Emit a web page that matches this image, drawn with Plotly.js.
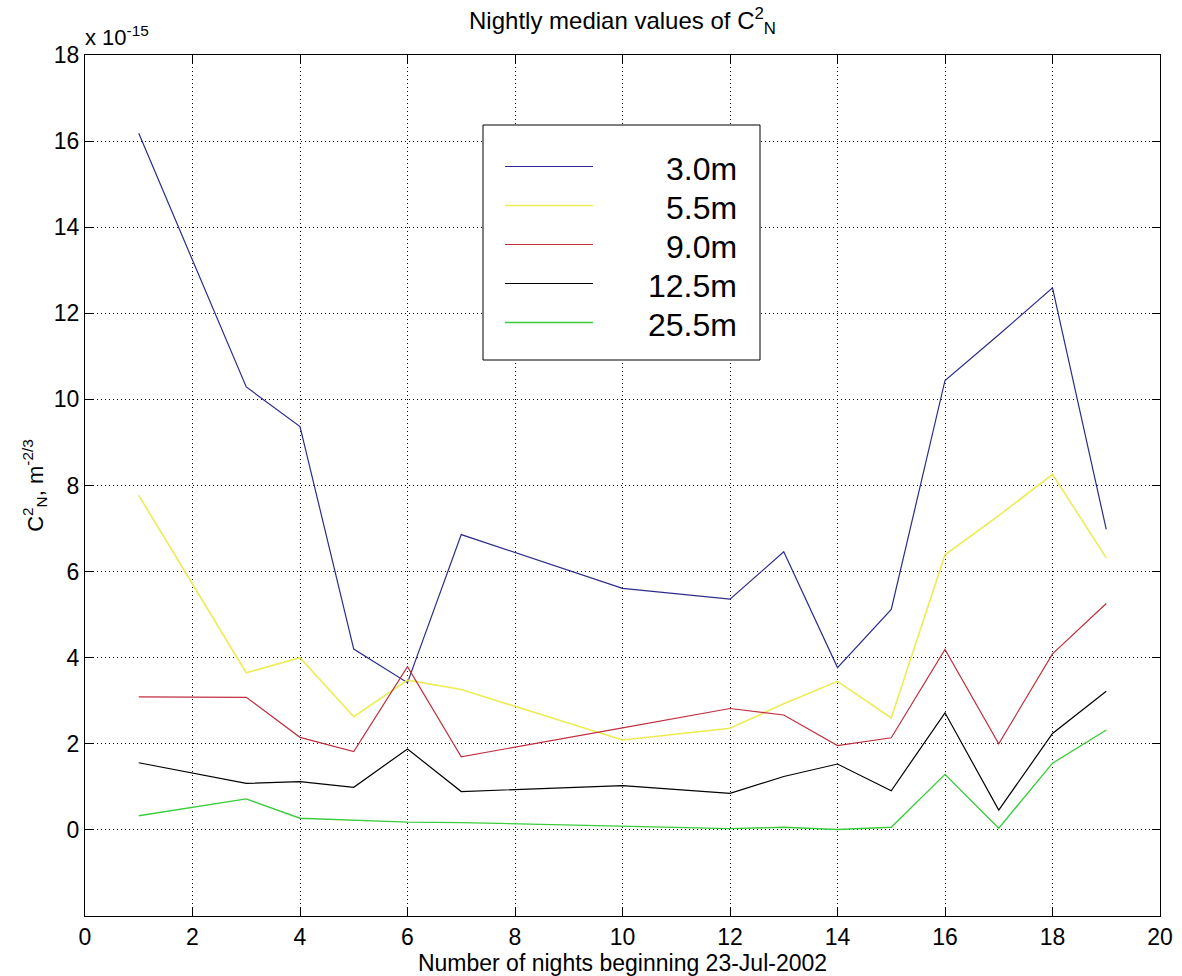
<!DOCTYPE html>
<html><head><meta charset="utf-8">
<script src="https://cdn.plot.ly/plotly-3.0.1.min.js"></script>
<style>html,body{margin:0;padding:0;background:#fff}</style>
</head><body><div id="chart" style="width:1182px;height:976px"></div>
<script>
// Data (values in units of 1e-15 m^-2/3)
const nights = [1,3,4,5,6,7,10,12,13,14,15,16,17,18,19];
const cn2_3_0m  = [16.18,10.29,9.37,4.20,3.42,6.86,5.61,5.36,6.46,3.77,5.12,10.44,11.50,12.59,6.98];
const cn2_5_5m  = [7.77,3.65,4.00,2.63,3.48,3.26,2.09,2.36,2.93,3.45,2.60,6.39,7.30,8.26,6.32];
const cn2_9_0m  = [3.09,3.08,2.15,1.82,3.79,1.70,2.37,2.82,2.67,1.96,2.14,4.19,2.00,4.09,5.26];
const cn2_12_5m = [1.56,1.08,1.12,0.99,1.88,0.89,1.03,0.85,1.24,1.53,0.91,2.72,0.46,2.24,3.22];
const cn2_25_5m = [0.33,0.72,0.27,0.22,0.18,0.17,0.08,0.03,0.06,0.01,0.06,1.29,0.04,1.55,2.32];
const seriesNames = ['3.0m','5.5m','9.0m','12.5m','25.5m'];
const yTickVals = [0,2,4,6,8,10,12,14,16,18];
const xTickVals = [0,2,4,6,8,10,12,14,16,18,20];

const seriesData = [cn2_3_0m, cn2_5_5m, cn2_9_0m, cn2_12_5m, cn2_25_5m];
const colors = ['#2c2c8c','#ecec55','#c03040','#000000','#3ccc3c'];
const widths = [1.2,1.6,1.2,1.2,1.4];
const FONT = 'Arial, "Liberation Sans", sans-serif';

const W = 1182, H = 976;
const M = {l:85, r:22, t:55, b:60};
const px2x = p => (p - M.l) / (W - M.l - M.r);
const px2y = p => (H - M.b - p) / (H - M.t - M.b);

const traces = seriesData.map((ys, i) => ({
  type:'scatter', mode:'lines', x:nights, y:ys, name:seriesNames[i],
  line:{color:colors[i], width:widths[i]}, showlegend:false
}));

// manual legend (MATLAB style)
const shapes = [{type:'rect', xref:'paper', yref:'paper',
  x0:px2x(483), x1:px2x(760), y0:px2y(360), y1:px2y(125),
  line:{color:'#000', width:1}, fillcolor:'#fff', layer:'above'}];
const annotations = [];
seriesNames.forEach((n, i) => {
  const yp = px2y(166.5 + i*39);
  shapes.push({type:'line', xref:'paper', yref:'paper', x0:px2x(505), x1:px2x(593), y0:yp, y1:yp,
    line:{color:colors[i], width:widths[i]}, layer:'above'});
  annotations.push({xref:'paper', yref:'paper', x:px2x(739), y:px2y(169 + i*39), xanchor:'right', yanchor:'middle',
    text:n, showarrow:false, font:{family:FONT, size:32, color:'#000'}});
});
annotations.push({xref:'paper', yref:'paper', x:-0.002, y:px2y(36), xanchor:'left', yanchor:'middle',
  text:'x 10<sup>-15</sup>', showarrow:false, font:{family:FONT, size:22, color:'#000'}});

const layout = {
  width:W, height:H, margin:M, paper_bgcolor:'#fff', plot_bgcolor:'#fff',
  font:{family:FONT, color:'#000'},
  title:{text:'Nightly median values of C<sup>2</sup><sub>N</sub>', font:{family:FONT, size:24, color:'#000'},
    xref:'paper', x:0.5, xanchor:'center', yref:'container', y:1-21/H, yanchor:'middle'},
  xaxis:{range:[0,20], tickvals:xTickVals, ticks:'inside', ticklen:8, tickcolor:'#000',
    showline:true, linecolor:'#000', linewidth:1, mirror:'ticks',
    showgrid:true, gridcolor:'#000', gridwidth:1, griddash:'1px,3px', zeroline:false,
    tickfont:{family:FONT, size:23, color:'#000'},
    title:{text:'Number of nights beginning 23-Jul-2002', font:{family:FONT, size:23, color:'#000'}, standoff:2}},
  yaxis:{range:[-2,18], tickvals:yTickVals, ticks:'inside', ticklen:8, tickcolor:'#000',
    showline:true, linecolor:'#000', linewidth:1, mirror:'ticks',
    showgrid:true, gridcolor:'#000', gridwidth:1, griddash:'1px,3px', zeroline:false,
    tickfont:{family:FONT, size:23, color:'#000'},
    title:{text:'C<sup>2</sup><sub>N</sub>, m<sup>-2/3</sup>', font:{family:FONT, size:22, color:'#000'}, standoff:4}},
  shapes:shapes, annotations:annotations
};
Plotly.newPlot('chart', traces, layout, {displayModeBar:false, staticPlot:true});
</script>
</body></html>
